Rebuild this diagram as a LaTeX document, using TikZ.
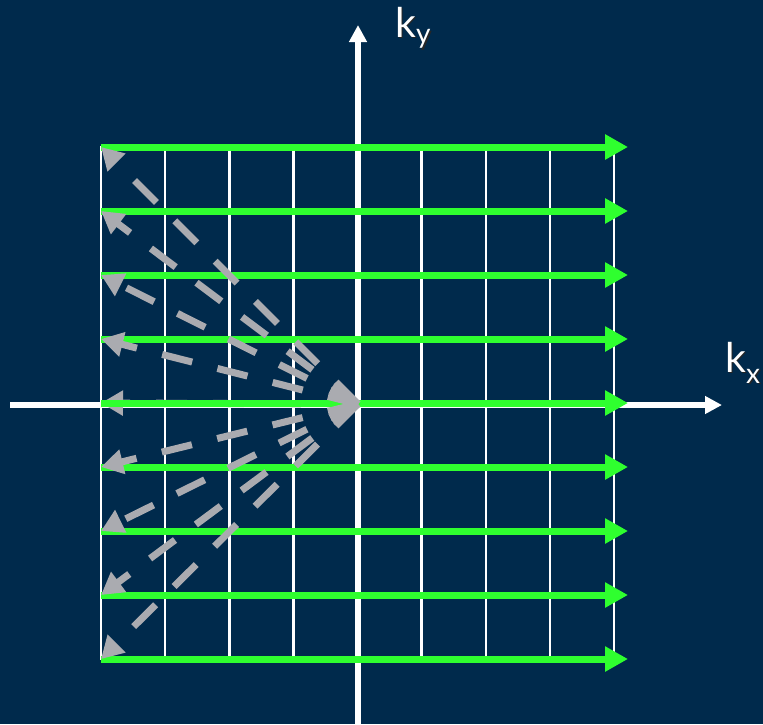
\documentclass[tikz,border=0pt]{standalone}
\usepackage{fontspec}
\setmainfont{Lato}
\usetikzlibrary{arrows.meta}
\definecolor{navy}{RGB}{0,42,76}
\definecolor{kgreen}{RGB}{47,255,47}
\definecolor{kgray}{RGB}{170,171,176}
\newcommand{\klab}[2]{k{\fontsize{28}{28}\selectfont\raisebox{#2}{#1}}}
\newcommand{\shadowed}[1]{\makebox[0pt][l]{\kern1.5pt\raisebox{-1.5pt}{\color{black!85}#1}}#1}
\begin{document}
\begin{tikzpicture}[x=1pt,y=-1pt,
  gridline/.style={white,line width=2.5pt},
  axisline/.style={white,line width=5.5pt,-{Triangle[length=17pt,width=17pt]}},
  greenarrow/.style={kgreen,line width=7pt,-{Triangle[length=23pt,width=24pt]}},
  grayarrow/.style={kgray,line width=7pt,dash pattern=on 31pt off 26pt,-{Triangle[length=22pt,width=24pt]}},
  lab/.style={inner sep=0pt,anchor=base west,text=white,font=\fontsize{41}{41}\selectfont}]
\fill[navy] (0,0) rectangle (763,724);
\useasboundingbox (0,0) rectangle (763,724);
% grid verticals
\foreach \i in {0,1,2,3,5,6,7,8}{
  \coordinate (T\i) at ({101+64.125*\i},146);
  \coordinate (B\i) at ({101+64.125*\i},660);
  \draw[gridline] (T\i) -- (B\i);
}
% axes
\coordinate (xs) at (10,405);
\coordinate (xe) at (722,405);
\coordinate (ys) at (358,724);
\coordinate (ye) at (358,25);
\draw[axisline] (xs) -- (xe);
\draw[axisline] (ys) -- (ye);
% origin and rows
\coordinate (O) at (358,404);
\foreach \i in {0,...,8}{
  \coordinate (L\i) at (101,{147+64*\i});
  \coordinate (R\i) at (628,{147+64*\i});
}
% horizontal gray arrow (under the green)
\draw[grayarrow] (O) -- (L4);
% green arrows
\foreach \i in {0,...,8}{
  \draw[greenarrow] (L\i) -- (R\i);
}
% other gray arrows
\foreach \i in {0,1,2,3,5,6,7,8}{
  \draw[grayarrow] (O) -- (L\i);
}
% labels
\node[lab] (ky) at (395,37) {\shadowed{\klab{y}{-6.5pt}}};
\node[lab] (kx) at (725,372) {\shadowed{\klab{x}{-11pt}}};
\end{tikzpicture}
\end{document}
